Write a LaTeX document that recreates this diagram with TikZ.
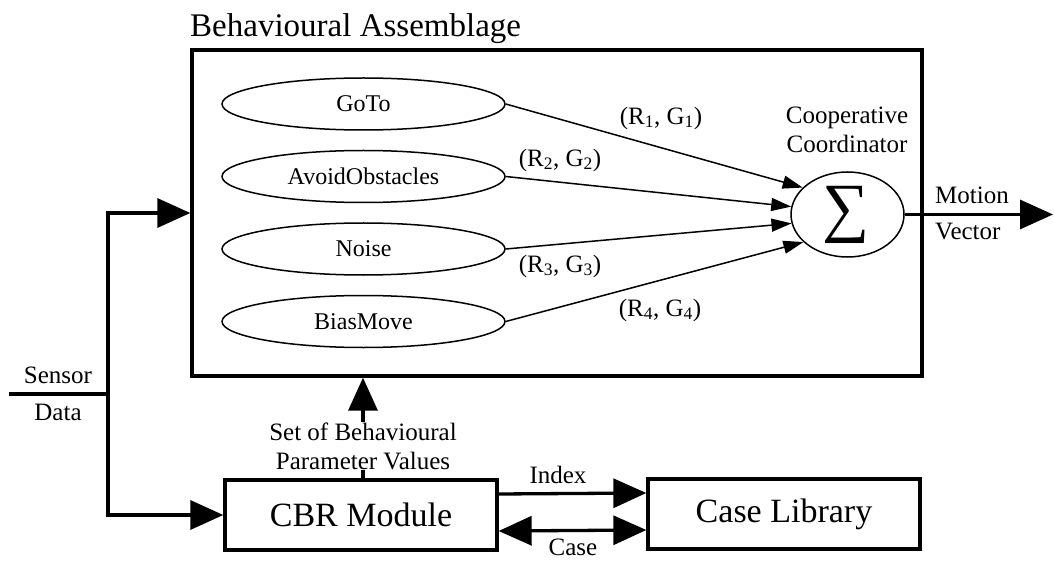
\documentclass[tikz,border=0pt]{standalone}
\usepackage{fontspec}
\setmainfont{Liberation Serif}
\usetikzlibrary{arrows.meta,shapes.geometric}

\tikzset{
  lbl/.style={font=\fontsize{25}{29}\selectfont, inner sep=0pt, align=center},
  behav/.style={draw, ellipse, line width=1.5pt, inner sep=0pt,
    minimum width=283pt, minimum height=52pt, font=\fontsize{24}{28}\selectfont},
  blockbox/.style={draw, rectangle, line width=3.3pt, inner sep=0pt,
    minimum width=272pt, minimum height=70pt, font=\fontsize{34}{38}\selectfont},
  bigarrow/.style={line width=3.3pt, -{Triangle[length=33pt,width=29pt]}},
  bigboth/.style={line width=3.3pt, {Triangle[length=33pt,width=29pt]}-{Triangle[length=33pt,width=29pt]}},
  thinarrow/.style={line width=1.5pt, -{Triangle[length=20pt,width=13pt]}},
}

\begin{document}
\begin{tikzpicture}[x=1pt,y=-1pt]
\useasboundingbox (0,0) rectangle (1054,561);

% behavioural assemblage frame and title
\node[draw, rectangle, line width=3.3pt, inner sep=0pt,
      minimum width=730pt, minimum height=326pt] (assem) at (557,213) {};
\node[anchor=base west, inner sep=0pt, font=\fontsize{33}{38}\selectfont]
      (title) at (190,37) {Behavioural Assemblage};

% behaviours
\node[behav] (goto)  at (363.5,104)   {GoTo};
\node[behav] (avoid) at (363.5,176.5) {AvoidObstacles};
\node[behav] (noise) at (363.5,249)   {Noise};
\node[behav] (bias)  at (363.5,321.5) {BiasMove};

% cooperative coordinator
\node[draw, ellipse, line width=1.5pt, inner sep=0pt,
      minimum width=113pt, minimum height=85pt] (sig) at (847.5,214.5) {};
\node[inner sep=0pt, font=\fontsize{66}{66}\selectfont] (sigsym) at (846.5,214.5) {∑};
\node[lbl] (coop) at (847,130) {Cooperative\\Coordinator};

\draw[thinarrow] (goto.east)  -- (sig.149);
\draw[thinarrow] (avoid.east) -- (sig.172);
\draw[thinarrow] (noise.east) -- (sig.189);
\draw[thinarrow] (bias.east)  -- (sig.212);

\node[lbl] (g1) at (661,118) {(R\textsubscript{1}, G\textsubscript{1})};
\node[lbl] (g2) at (560,160) {(R\textsubscript{2}, G\textsubscript{2})};
\node[lbl] (g3) at (560,266) {(R\textsubscript{3}, G\textsubscript{3})};
\node[lbl] (g4) at (660,310) {(R\textsubscript{4}, G\textsubscript{4})};

% motion vector output
\coordinate (mout) at (1053,214.5);
\draw[bigarrow] (sig.east) -- (mout);
\node[lbl, anchor=west] (motion) at (935,195) {Motion};
\node[lbl, anchor=west] (vector) at (935,232) {Vector};

% CBR module and case library
\node[blockbox] (cbr) at (361,515) {CBR Module};
\node[blockbox] (lib) at (784,514) {Case Library};

\draw[bigarrow] ([yshift=21pt]cbr.east) -- ([yshift=21pt]lib.west);
\draw[bigboth] ([yshift=-16pt]cbr.east) -- ([yshift=-16pt]lib.west);
\node[lbl] (index) at (558,475) {Index};
\node[lbl] (case) at (573,547) {Case};

% parameter values fed back to the assemblage
\draw[bigarrow] ([xshift=2pt]cbr.north) -- ([xshift=2pt]cbr.north |- assem.south);
\node[lbl, fill=white, inner sep=1pt] (params) at (363,446)
      {Set of Behavioural\\Parameter Values};

% sensor data input
\coordinate (sin) at (9,394);
\coordinate (split) at (108,394);
\node[lbl] (sensor) at (58,375) {Sensor};
\node[lbl] (data) at (58,412) {Data};
\draw[line width=3.3pt] (sin) -- (split);
\draw[bigarrow] (split) |- (assem.west);
\draw[bigarrow] (split) |- (cbr.west);
\end{tikzpicture}
\end{document}
